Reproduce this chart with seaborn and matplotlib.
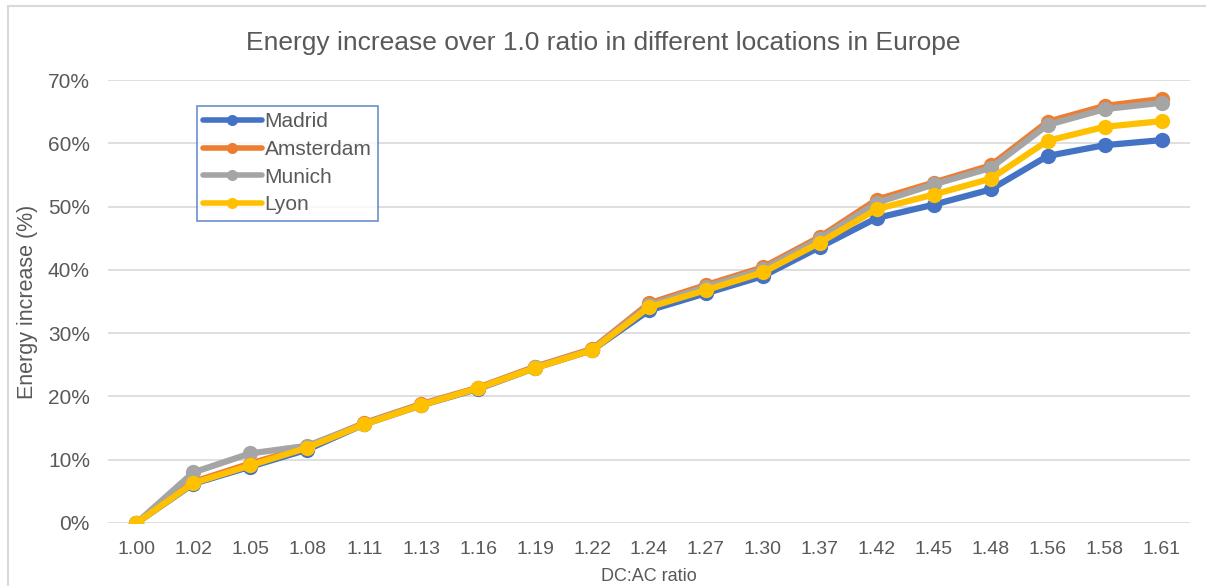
import numpy as np
import pandas as pd
import matplotlib
matplotlib.use('Agg')
import matplotlib.pyplot as plt
import seaborn as sns
from matplotlib.patches import Rectangle
from matplotlib.ticker import FuncFormatter

ratios = ['1.00', '1.02', '1.05', '1.08', '1.11', '1.13', '1.16', '1.19', '1.22', '1.24',
          '1.27', '1.30', '1.37', '1.42', '1.45', '1.48', '1.56', '1.58', '1.61']

madrid = [0.0, 6.2, 8.9, 11.6, 15.6, 18.6, 21.2, 24.5, 27.3, 33.6,
          36.3, 39.0, 43.6, 48.2, 50.3, 52.7, 58.0, 59.7, 60.5]
amsterdam = [0.0, 6.5, 9.4, 12.0, 15.8, 18.8, 21.4, 24.7, 27.5, 34.7,
             37.6, 40.4, 45.2, 51.1, 53.8, 56.5, 63.4, 65.9, 67.0]
munich = [0.0, 8.0, 11.0, 12.2, 15.7, 18.7, 21.3, 24.6, 27.4, 34.4,
          37.3, 40.1, 44.9, 50.6, 53.5, 56.1, 62.9, 65.4, 66.4]
lyon = [0.0, 6.3, 9.1, 11.9, 15.6, 18.6, 21.3, 24.5, 27.3, 34.1,
        36.8, 39.6, 44.3, 49.6, 51.9, 54.4, 60.4, 62.6, 63.5]

locations = ['Madrid', 'Amsterdam', 'Munich', 'Lyon']
colors = ['#4472C4', '#ED7D31', '#A5A5A5', '#FFC000']

rows = []
for loc, vals in zip(locations, [madrid, amsterdam, munich, lyon]):
    for i, v in enumerate(vals):
        rows.append({'idx': i, 'value': v / 100.0, 'location': loc})
df = pd.DataFrame(rows)

sns.set_style('white')
plt.rcParams['font.family'] = ['Liberation Sans', 'DejaVu Sans']
txt = '#595959'

fig = plt.figure(figsize=(12.06, 5.86), dpi=100)
ax = fig.add_axes([108 / 1206, 1 - 523 / 586, (1190 - 108) / 1206, (523 - 80) / 586])

sns.lineplot(data=df, x='idx', y='value', hue='location', hue_order=locations,
             palette=colors, marker='o', markersize=11, markeredgewidth=0,
             linewidth=4.5, sort=False, ax=ax)

ax.set_xlim(-0.5, len(ratios) - 0.5)
ax.set_ylim(0, 0.70)
ax.set_yticks(np.arange(0, 0.71, 0.1))
ax.yaxis.set_major_formatter(FuncFormatter(lambda v, p: f'{v * 100:.0f}%'))
ax.set_xticks(range(len(ratios)))
ax.set_xticklabels(ratios)
ax.tick_params(axis='x', length=0, labelsize=14, colors=txt, pad=13)
ax.tick_params(axis='y', length=0, labelsize=15, colors=txt, pad=13)
ax.grid(axis='y', color='#D9D9D9', linewidth=1.2)
ax.set_axisbelow(True)
for s in ['top', 'right', 'left', 'bottom']:
    ax.spines[s].set_visible(False)

ax.set_xlabel('DC:AC ratio', fontsize=13, color=txt, labelpad=7)
ax.set_ylabel('Energy increase (%)', fontsize=15.5, color=txt, labelpad=7)
fig.text(0.5, 1 - 43 / 586, 'Energy increase over 1.0 ratio in different locations in Europe',
         ha='center', va='center', fontsize=19, color=txt)

leg = ax.legend(loc='upper left', bbox_to_anchor=((197 - 108) / 1082, (523 - 106) / 443),
                frameon=True, fancybox=False, fontsize=15, handlelength=2.8,
                borderpad=0.3, labelspacing=0.42, handletextpad=0.15, borderaxespad=0)
leg.get_frame().set_edgecolor('#4472C4')
leg.get_frame().set_linewidth(1.2)
for t in leg.get_texts():
    t.set_color(txt)
for h in leg.legend_handles:
    h.set_markersize(8)
    h.set_linewidth(4)

fig.patches.append(Rectangle((8 / 1206, -0.1), 1.2, 1 - 6 / 586 + 0.1,
                             transform=fig.transFigure, fill=False,
                             edgecolor='#D9D9D9', linewidth=1.5))

plt.savefig('out.png', dpi=100)
plt.close()
